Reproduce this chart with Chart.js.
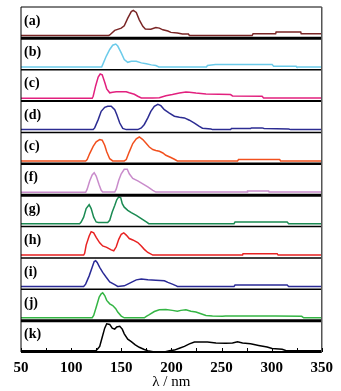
<!DOCTYPE html>
<html>
<head>
<style>
  html, body { margin: 0; padding: 0; background: #fff; }
</style>
<script src="https://cdn.jsdelivr.net/npm/chart.js"></script>
</head>
<body>
<canvas id="spectra" width="341" height="391"></canvas>
<script>
// wavelength axis
const xMin = 50, xMax = 350;
const xLabels = [50, 100, 150, 200, 250, 300, 350];

// panel tags as printed (the fifth one really reads "(c)")
const panelLabels = ['(a)', '(b)', '(c)', '(d)', '(c)', '(f)', '(g)', '(h)', '(i)', '(j)', '(k)'];

// [λ (nm), relative intensity]
const traceA = [[50,0],[137.5,0],[138.5,0.02],[143.5,0.18],[150,0.26],[153,0.34],[156.5,0.61],[160,0.84],[162,0.88],[165,0.81],[168,0.55],[171.5,0.32],[174,0.23],[179.5,0.22],[184.5,0.28],[188,0.26],[191.5,0.2],[196.5,0.16],[199.5,0.11],[206,0.09],[211,0.05],[217,0.05],[218,0],[280.5,0],[281.5,0.06],[304,0.06],[304.5,0.12],[329,0.12],[329.5,0.06],[350,0.06]];
const traceB = [[50,0],[130.5,0],[131.5,0.08],[135,0.37],[138.5,0.61],[141.5,0.76],[144.5,0.8],[146.5,0.73],[150,0.49],[153,0.26],[156.5,0.16],[160,0.2],[165,0.2],[170,0.14],[175,0.11],[180,0.07],[184.5,0.05],[187.5,0],[235,0],[236,0.05],[244,0.08],[300.5,0.08],[302,0.02],[324.5,0.02],[325,0],[350,0]];
const traceC = [[50,0],[121,0],[122,0.07],[124.5,0.44],[127,0.74],[129,0.85],[131,0.82],[133.5,0.56],[135.5,0.33],[138.5,0.19],[141.5,0.21],[145,0.23],[155,0.23],[158,0.19],[163,0.14],[166.5,0.07],[170,0.01],[181.5,0.01],[188,0.02],[194.5,0.09],[201,0.13],[208,0.18],[214.5,0.22],[218,0.21],[224.5,0.18],[234.5,0.15],[247.5,0.14],[259,0.13],[261,0.08],[290.5,0.07],[292,0.01],[350,0.01]];
const traceD = [[50,0],[122,0],[123.5,0.06],[127,0.35],[130,0.64],[133.5,0.78],[136.5,0.82],[140,0.82],[143.5,0.7],[145.5,0.53],[148.5,0.23],[151.5,0.04],[155,0],[166.5,0],[170,0.06],[173,0.18],[176.5,0.41],[179.5,0.64],[183,0.82],[186.5,0.89],[189.5,0.84],[193,0.7],[198,0.58],[203,0.47],[208,0.43],[213,0.41],[218,0.33],[223,0.23],[227.5,0.12],[231,0.05],[239.5,0.02],[241,0],[259,0],[260,0.04],[279,0.04],[280,0.06],[290.5,0.06],[292.5,0.04],[317,0.02],[319,0],[350,0]];
const traceE = [[50,0],[114.5,0],[116,0.05],[118.5,0.26],[122,0.51],[125,0.67],[128.5,0.75],[131,0.73],[133.5,0.55],[135.5,0.32],[138.5,0.08],[141.5,0],[153,0],[155,0.05],[158,0.32],[161.5,0.61],[165,0.78],[168,0.84],[171.5,0.75],[175,0.61],[178,0.49],[181.5,0.4],[184.5,0.37],[188,0.34],[191.5,0.28],[194.5,0.2],[199.5,0.12],[203,0.06],[206,0],[266,0],[267,0.05],[308,0.05],[309,0],[350,0]];
const traceF = [[50,0],[114.5,0],[116,0.11],[118.5,0.4],[121,0.61],[123,0.69],[125,0.57],[128,0.26],[130,0.07],[131.5,0.01],[143.5,0.01],[145,0.11],[147.5,0.42],[150,0.65],[153,0.81],[156,0.81],[158,0.65],[161.5,0.49],[166.5,0.4],[171.5,0.3],[176.5,0.19],[181.5,0.07],[184.5,0.01],[275.5,0.01],[276,0.05],[297,0.05],[297.5,0.01],[350,0.01]];
const traceG = [[50,0],[108.5,0],[110,0.06],[112.5,0.23],[115,0.53],[118,0.67],[120,0.53],[122.5,0.23],[125,0.06],[127,0.04],[136.5,0.04],[138.5,0.12],[141,0.41],[143.5,0.64],[145.5,0.84],[147.5,0.94],[149.5,0.91],[151,0.7],[153,0.58],[156.5,0.47],[160,0.39],[165,0.29],[170,0.18],[175,0.06],[177.5,0],[262.5,0],[263.5,0.06],[315.5,0.06],[317,0],[350,0]];
const traceH = [[50,0],[112.5,0],[113.5,0.06],[115,0.35],[118,0.67],[120,0.82],[122.5,0.78],[125,0.62],[128.5,0.43],[131.5,0.32],[135.5,0.27],[140,0.18],[142.5,0.15],[145,0.29],[147.5,0.55],[150,0.73],[152.5,0.78],[155,0.7],[158,0.58],[161.5,0.53],[166.5,0.44],[170,0.32],[173,0.2],[176.5,0.09],[181.5,0],[271,0],[271.5,0.05],[305.5,0.05],[306.5,0],[350,0]];
const traceI = [[50,0],[112.5,0],[114.5,0.08],[118,0.37],[121,0.67],[123,0.87],[124.5,0.9],[126,0.84],[128.5,0.67],[131.5,0.49],[135,0.32],[138.5,0.16],[143.5,0.06],[146.5,0],[153,0.02],[156.5,0.08],[160,0.14],[165,0.23],[170,0.26],[176.5,0.23],[184.5,0.22],[193,0.2],[196.5,0.14],[201,0.08],[205,0.02],[206,0],[262.5,0],[263.5,0.05],[315.5,0.05],[317,0],[350,0]];
const traceJ = [[50,0],[121,0],[122.5,0.08],[125,0.37],[128,0.73],[130,0.84],[131.5,0.88],[133.5,0.78],[135.5,0.61],[138.5,0.49],[141.5,0.43],[144.5,0.32],[146.5,0.2],[150,0.06],[153,0],[173,0],[175,0.05],[178,0.11],[183,0.22],[188,0.28],[194.5,0.29],[201,0.26],[206,0.23],[209.5,0.26],[214.5,0.28],[219.5,0.23],[224.5,0.2],[229.5,0.14],[234.5,0.08],[241,0.06],[251,0.05],[254,0.06],[284,0.06],[304,0.06],[330,0.05],[332,0],[350,0]];
const traceK = [[50,0.04],[124.5,0.04],[126,0.08],[128.5,0.18],[131,0.47],[133.5,0.76],[135.5,0.9],[138.5,0.88],[141,0.76],[143.5,0.73],[145.5,0.8],[148.5,0.82],[151,0.73],[153,0.58],[156.5,0.41],[160,0.33],[164,0.23],[168,0.15],[173,0.08],[176.5,0.04],[183,0],[193,0],[198,0.04],[203,0.06],[208,0.12],[213,0.18],[218,0.26],[223,0.32],[228,0.32],[236,0.32],[244.5,0.29],[254,0.28],[261,0.29],[266,0.33],[271,0.29],[279,0.26],[287,0.21],[295.5,0.16],[300.5,0.11],[310.5,0.09],[314,0.05],[350,0.04]];

const traces = [traceA, traceB, traceC, traceD, traceE, traceF, traceG, traceH, traceI, traceJ, traceK];
const colors = ['#7a2626', '#6ccbea', '#e2207e', '#2c2c92', '#f2501e', '#c98ccb', '#1a8a52', '#e82222', '#2a2a96', '#34b544', '#000000'];

// line widths of the rule at the top of each panel
const ruleWidths = [1, 3, 1.5, 2, 1.5, 2.5, 3, 1.5, 1.5, 1.5, 3];
const serif = "'Liberation Serif', 'DejaVu Serif', serif";

const scales = {
  x: {
    type: 'linear', min: xMin, max: xMax,
    grid: { display: false, drawTicks: false },
    border: { display: false },
    afterFit: s => { s.height = 38; },
    ticks: {
      stepSize: 25, autoSkip: false, maxRotation: 0, padding: 8, color: '#000',
      font: { family: serif, size: 15, weight: 'bold', lineHeight: 1.1 },
      callback: v => xLabels.includes(v) ? String(v) : ''
    },
    title: {
      display: true, text: 'λ / nm', color: '#000',
      font: { family: serif, size: 15, lineHeight: 1.1 },
      padding: { top: 0, bottom: 0 }
    }
  }
};
// stacked left axes are laid out bottom-up, so register (k) first
for (let i = traces.length - 1; i >= 0; i--) {
  scales['y' + i] = {
    type: 'linear', position: 'left', stack: 'panels', stackWeight: 1,
    min: i === traces.length - 1 ? 0 : -0.1, max: 1,
    ticks: { display: false },
    grid: { display: false, drawTicks: false },
    border: { display: false }
  };
}

// frame, panel rules, inward x ticks and panel tags
const frame = {
  id: 'frame',
  afterDatasetsDraw(chart) {
    const ctx = chart.ctx, area = chart.chartArea;
    ctx.save();
    ctx.strokeStyle = '#000';
    const hline = (y, w) => {
      ctx.lineWidth = w;
      ctx.beginPath(); ctx.moveTo(area.left, y); ctx.lineTo(area.right, y); ctx.stroke();
    };
    traces.forEach((t, i) => hline(chart.scales['y' + i].top, ruleWidths[i]));
    hline(area.bottom, 2);

    ctx.lineWidth = 1;
    ctx.beginPath(); ctx.moveTo(area.left, area.top); ctx.lineTo(area.left, area.bottom); ctx.stroke();
    ctx.strokeStyle = '#555';
    ctx.lineWidth = 1.5;
    ctx.beginPath(); ctx.moveTo(area.right, area.top); ctx.lineTo(area.right, area.bottom); ctx.stroke();

    const xs = chart.scales.x;
    ctx.strokeStyle = '#000';
    ctx.lineWidth = 1;
    xs.ticks.forEach(tk => {
      const px = Math.round(xs.getPixelForValue(tk.value)) + 0.5;
      ctx.beginPath(); ctx.moveTo(px, area.bottom); ctx.lineTo(px, area.bottom - 4); ctx.stroke();
    });

    ctx.fillStyle = '#000';
    ctx.font = 'bold 14px ' + serif;
    ctx.textBaseline = 'middle';
    panelLabels.forEach((lab, i) => {
      ctx.fillText(lab, area.left + 3, chart.scales['y' + i].top + 14);
    });
    ctx.restore();
  }
};

new Chart(document.getElementById('spectra'), {
  type: 'line',
  data: {
    datasets: traces.map((t, i) => ({
      label: panelLabels[i],
      data: t.map(p => ({ x: p[0], y: p[1] })),
      yAxisID: 'y' + i,
      borderColor: colors[i],
      borderWidth: 1.5,
      pointRadius: 0,
      fill: false,
      tension: 0
    }))
  },
  options: {
    responsive: false,
    animation: false,
    layout: { padding: { left: 21, right: 18, top: 7, bottom: 1 } },
    plugins: { legend: { display: false }, tooltip: { enabled: false } },
    scales: scales
  },
  plugins: [frame]
});
</script>
</body>
</html>
